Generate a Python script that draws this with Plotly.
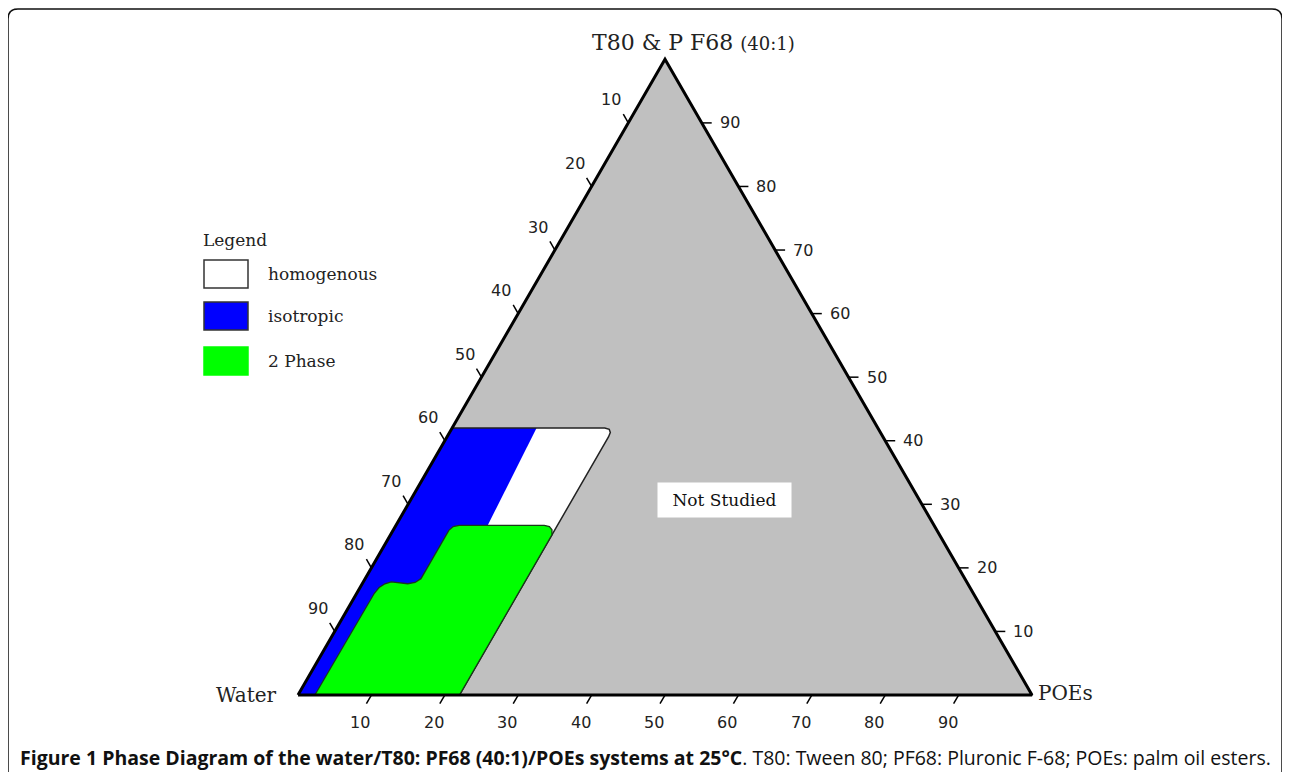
import numpy as np
import plotly.graph_objects as go

# page offset (browser body margin) and figure size
OFF = 8
W_PX, H_PX = 1290 - OFF, 772 - OFF

# ---------------- data (compositions in %) ----------------
tick_values = [10, 20, 30, 40, 50, 60, 70, 80, 90]

# regions given as (surfactant T80&PF68 %, POEs %); water = 100 - surf - poes
studied_surf = [0, 42, 42, 41.8, 41.3, 40.6, 0]
studied_poes = [0, 0, 20.8, 21.5, 21.9, 22.0, 22.0]

iso_surf = [0, 42, 42, 26.7, 18, 0]
iso_poes = [0, 0, 11.5, 12.5, 12.2, 10]

two_surf = [0, 16.0, 16.9, 17.5, 17.8, 17.6, 17.5, 17.7, 18.3, 25.9, 26.5, 26.7, 26.7, 26.5, 26.0, 25.2, 0]
two_poes = [2.3, 2.4, 2.6, 3.1, 3.8, 5.0, 6.2, 7.1, 7.6, 7.6, 7.9, 8.6, 20.2, 21.0, 21.6, 22.0, 22.0]

legend_names = ["homogenous", "isotropic", "2 Phase"]
legend_colors = ["#ffffff", "#0000ff", "#00ff00"]

not_studied_surf, not_studied_poes = 30.6, 42.8

S3 = np.sqrt(3) / 2


def to_xy(surf, poes):
    s = np.asarray(surf, float)
    p = np.asarray(poes, float)
    return p + s / 2, s * S3


# axis scaling so that the triangle lands where it is in the picture (screen px)
SCALE = 7.34          # px per composition unit
X0_PX, Y0_PX = 298 - OFF, 695 - OFF
x_range = [-X0_PX / SCALE, (W_PX - X0_PX) / SCALE]
y_range = [-(H_PX - Y0_PX) / SCALE, Y0_PX / SCALE]


def px(xp, yp):
    """screen pixel -> paper coordinates"""
    return (xp - OFF) / W_PX, 1 - (yp - OFF) / H_PX


fig = go.Figure()

# full triangle (not studied, grey)
tx, ty = to_xy([0, 0, 100, 0], [0, 100, 0, 0])
fig.add_trace(go.Scatter(x=tx, y=ty, mode="lines", fill="toself", fillcolor="#c0c0c0",
                         line=dict(color="rgba(0,0,0,0)", width=0), hoverinfo="skip", showlegend=False))

# studied region (homogenous, white)
sx, sy = to_xy(studied_surf, studied_poes)
fig.add_trace(go.Scatter(x=sx, y=sy, mode="lines", fill="toself", fillcolor="#ffffff",
                         line=dict(color="rgba(0,0,0,0)", width=0), hoverinfo="skip", showlegend=False))
# isotropic (blue)
ix, iy = to_xy(iso_surf, iso_poes)
fig.add_trace(go.Scatter(x=ix, y=iy, mode="lines", fill="toself", fillcolor="#0000ff",
                         line=dict(color="rgba(0,0,0,0)", width=0), hoverinfo="skip", showlegend=False))
# outline of studied region (top + right)
fig.add_trace(go.Scatter(x=sx[1:], y=sy[1:], mode="lines",
                         line=dict(color="#222222", width=1.5), hoverinfo="skip", showlegend=False))
# two phase (green)
gx, gy = to_xy(two_surf, two_poes)
fig.add_trace(go.Scatter(x=gx, y=gy, mode="lines", fill="toself", fillcolor="#00ff00",
                         line=dict(color="#1a3a1a", width=1.3), hoverinfo="skip", showlegend=False))

# triangle border
fig.add_trace(go.Scatter(x=tx, y=ty, mode="lines", line=dict(color="#000000", width=3),
                         hoverinfo="skip", showlegend=False))

# ---------------- ticks ----------------
L = 10 / SCALE
tick_x, tick_y = [], []
annotations = []
tick_font = dict(family="DejaVu Sans", size=16, color="#222222")
for v in tick_values:
    # left edge: water fraction (edge point: surf = 100 - v, poes = 0)
    ex, ey = to_xy(100 - v, 0)
    tick_x += [float(ex), float(ex - 0.5 * L), None]
    tick_y += [float(ey), float(ey + S3 * L), None]
    annotations.append(dict(x=float(ex), y=float(ey), xref="x", yref="y", text=str(v), showarrow=False,
                            xshift=-17, yshift=23, font=tick_font))
    # right edge: surfactant fraction (surf = v, poes = 100 - v)
    ex, ey = to_xy(v, 100 - v)
    tick_x += [float(ex), float(ex + L), None]
    tick_y += [float(ey), float(ey), None]
    annotations.append(dict(x=float(ex), y=float(ey), xref="x", yref="y", text=str(v), showarrow=False,
                            xshift=28, yshift=0, font=tick_font))
    # bottom edge: POEs fraction (surf = 0, poes = v)
    ex, ey = to_xy(0, v)
    tick_x += [float(ex), float(ex - 0.5 * L), None]
    tick_y += [float(ey), float(ey - S3 * L), None]
    annotations.append(dict(x=float(ex), y=float(ey), xref="x", yref="y", text=str(v), showarrow=False,
                            xshift=-11, yshift=-27, font=tick_font))

fig.add_trace(go.Scatter(x=tick_x, y=tick_y, mode="lines", line=dict(color="#000000", width=1.5),
                         hoverinfo="skip", showlegend=False))

serif = "DejaVu Serif"
txt_col = "#222222"


def paper_text(xp, yp, text, size, xanchor="center", family=serif, color=txt_col):
    a, b = px(xp, yp)
    return dict(x=a, y=b, xref="paper", yref="paper", xanchor=xanchor, yanchor="middle",
                text=text, showarrow=False, font=dict(family=family, size=size, color=color))


# vertex labels
annotations.append(paper_text(590, 42, 'T80 &amp; P F68 <span style="font-size:18px">(40:1)</span>', 22, "left"))
annotations.append(paper_text(279, 695, "Water", 20, "right"))
annotations.append(paper_text(1036, 693, "POEs", 20, "left"))

# Not studied label
nx, ny = to_xy(not_studied_surf, not_studied_poes)
annotations.append(dict(x=float(nx), y=float(ny), xref="x", yref="y", text="Not Studied", showarrow=False,
                        bgcolor="#ffffff", width=133, height=34, borderpad=0,
                        font=dict(family=serif, size=17, color="#111111")))

# legend
shapes = []
annotations.append(paper_text(201, 240, "Legend", 17, "left"))
box_tops = [260, 302, 347]
for name, col, top in zip(legend_names, legend_colors, box_tops):
    x0, y0 = px(204, top)
    x1, y1 = px(248, top + 28)
    shapes.append(dict(type="rect", xref="paper", yref="paper", x0=x0, y0=y1, x1=x1, y1=y0,
                       fillcolor=col, line=dict(color="#333333" if name != "2 Phase" else col, width=1.5)))
    annotations.append(paper_text(266, top + 14, name, 17, "left"))

# figure border (rounded)
r = 10
bx0, by0, bx1, by1 = 8, 9, 1282, 790


def P(xp, yp):
    a, b = px(xp, yp)
    return f"{a:.5f},{b:.5f}"


path = (f"M {P(bx0, by1)} L {P(bx0, by0 + r)} Q {P(bx0, by0)} {P(bx0 + r, by0)} "
        f"L {P(bx1 - r, by0)} Q {P(bx1, by0)} {P(bx1, by0 + r)} L {P(bx1, by1)}")
shapes.append(dict(type="path", xref="paper", yref="paper", path=path, line=dict(color="#111111", width=1.5)))

# caption
annotations.append(paper_text(18, 757,
                              "<b>Figure 1 Phase Diagram of the water/T80: PF68 (40:1)/POEs systems at 25°C</b>. "
                              "T80: Tween 80; PF68: Pluronic F-68; POEs: palm oil esters.",
                              19.5, "left", family="Open Sans", color="#111111"))

fig.update_layout(
    width=W_PX, height=H_PX,
    margin=dict(l=0, r=0, t=0, b=0),
    paper_bgcolor="#ffffff", plot_bgcolor="#ffffff",
    xaxis=dict(range=x_range, visible=False, fixedrange=True),
    yaxis=dict(range=y_range, visible=False, fixedrange=True),
    annotations=annotations, shapes=shapes,
    showlegend=False,
)

fig.write_html("out.html")
